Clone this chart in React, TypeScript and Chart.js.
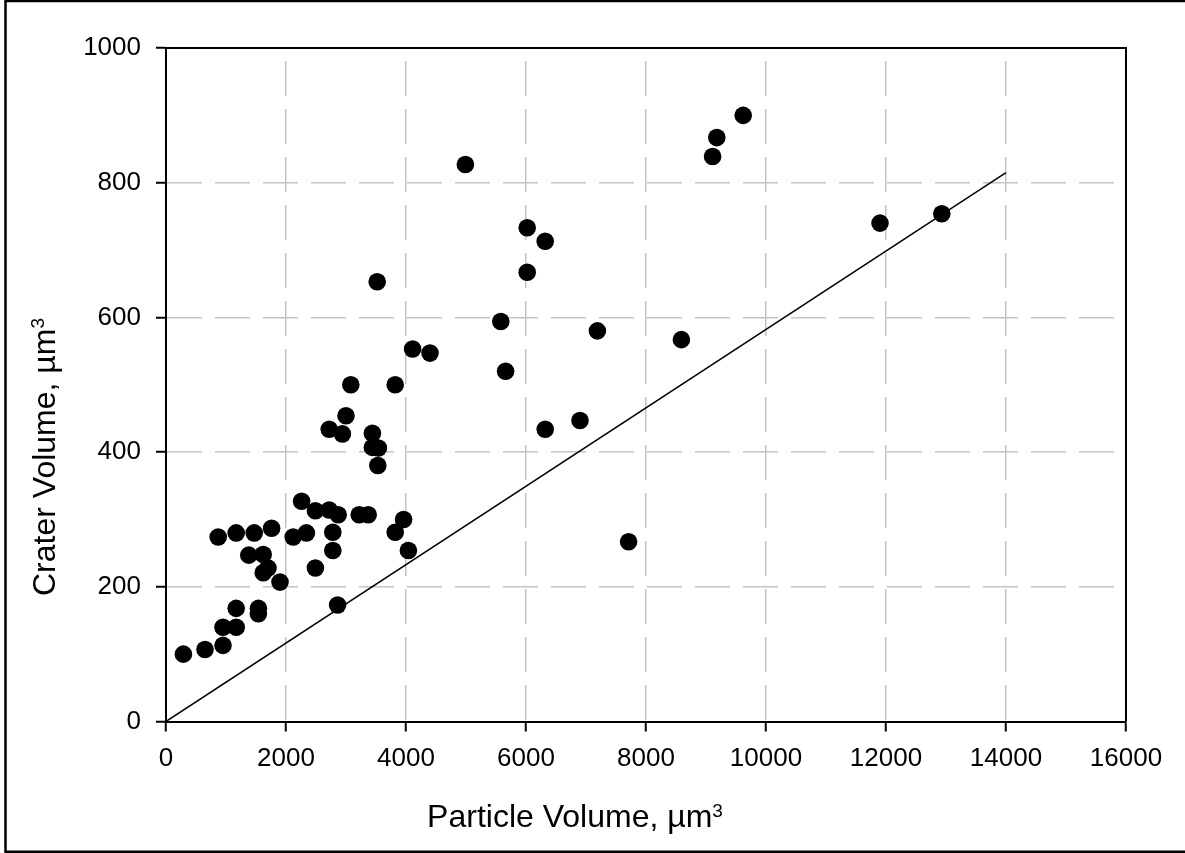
import React, { useEffect, useRef } from "react";
import { Chart, registerables } from "chart.js";

Chart.register(...registerables);

const particleVolume = [
  290, 650, 950, 950, 1170, 1170, 1540, 1540, 1900, 1620,
  1700, 1380, 1620, 870, 1170, 1470, 1760, 2120, 2340, 2260,
  2490, 2720, 2870, 3220, 3370, 3960, 3820, 4040, 2780, 2780,
  2490, 2860, 3080, 3820, 3000, 2720, 2940, 3440, 3440, 3540,
  3530, 4990, 6020, 6320, 6020, 3520, 5580, 7190, 4110, 4400,
  5660, 6320, 6900, 9620, 9180, 9110, 11900, 12930, 8590, 7710,
];
const craterVolume = [
  100, 107, 113, 140, 140, 168, 168, 160, 207, 221,
  228, 247, 248, 274, 280, 280, 287, 274, 280, 327,
  313, 314, 307, 307, 307, 300, 281, 254, 281, 254,
  228, 173, 500, 500, 454, 434, 427, 428, 407, 406,
  380, 827, 733, 713, 667, 653, 594, 580, 553, 547,
  520, 434, 447, 900, 867, 839, 740, 754, 567, 267,
];

// Fitted line end points
const fitX = [0, 14000];
const fitY = [0, 815];

// Axis settings
const xTicks = { min: 0, max: 16000, step: 2000 };
const yTicks = { min: 0, max: 1000, step: 200 };

const X_TITLE = "Particle Volume, µm";
const Y_TITLE = "Crater Volume, µm";
const TITLE_SUP = "3";

const FONT = "'Liberation Sans', Arial, Helvetica, sans-serif";

function drawTitle(ctx: CanvasRenderingContext2D, main: string, sup: string) {
  ctx.font = `32px ${FONT}`;
  const wMain = ctx.measureText(main).width;
  ctx.font = `19px ${FONT}`;
  const wSup = ctx.measureText(sup).width;
  const start = -(wMain + wSup) / 2;
  ctx.textAlign = "left";
  ctx.textBaseline = "alphabetic";
  ctx.font = `32px ${FONT}`;
  ctx.fillText(main, start, 0);
  ctx.font = `19px ${FONT}`;
  ctx.fillText(sup, start + wMain, -10.7);
}

const decorPlugin = {
  id: "decor",
  beforeDatasetsDraw(chart: any) {
    const { ctx, chartArea } = chart;
    ctx.save();
    ctx.strokeStyle = "#000";
    ctx.lineWidth = 2;
    ctx.beginPath();
    ctx.moveTo(chartArea.left, chartArea.top);
    ctx.lineTo(chartArea.right, chartArea.top);
    ctx.lineTo(chartArea.right, chartArea.bottom);
    ctx.stroke();
    ctx.restore();
  },
  afterDraw(chart: any) {
    const { ctx } = chart;
    ctx.save();
    // outer frame
    ctx.strokeStyle = "#000";
    ctx.lineWidth = 2.5;
    ctx.beginPath();
    ctx.moveTo(1195, 1);
    ctx.lineTo(5.5, 1);
    ctx.lineTo(5.5, 851.8);
    ctx.lineTo(1195, 851.8);
    ctx.stroke();
    ctx.fillStyle = "#000";
    // x axis title
    ctx.save();
    ctx.translate(575, 827.3);
    drawTitle(ctx, X_TITLE, TITLE_SUP);
    ctx.restore();
    // y axis title
    ctx.save();
    ctx.translate(54.5, 457);
    ctx.rotate(-Math.PI / 2);
    drawTitle(ctx, Y_TITLE, TITLE_SUP);
    ctx.restore();
    ctx.restore();
  },
};

export default function App() {
  const ref = useRef<HTMLCanvasElement | null>(null);

  useEffect(() => {
    if (!ref.current) return;
    const points = particleVolume.map((x, i) => ({ x, y: craterVolume[i] }));
    const fit = fitX.map((x, i) => ({ x, y: fitY[i] }));
    const chart = new Chart(ref.current, {
      type: "scatter",
      data: {
        datasets: [
          {
            data: points,
            backgroundColor: "#000",
            borderWidth: 0,
            pointRadius: 8.8,
            pointHoverRadius: 8.8,
          },
          {
            data: fit,
            showLine: true,
            borderColor: "#000",
            borderWidth: 1.5,
            pointRadius: 0,
            pointHoverRadius: 0,
            fill: false,
          },
        ],
      },
      options: {
        animation: false,
        responsive: false,
        devicePixelRatio: 1,
        layout: { padding: { left: 0, top: 48, right: 59, bottom: 0 } },
        plugins: {
          legend: { display: false },
          tooltip: { enabled: false },
          title: { display: false },
        },
        scales: {
          x: {
            type: "linear",
            min: xTicks.min,
            max: xTicks.max,
            afterFit: (s: any) => {
              s.height = 131.5;
            },
            ticks: {
              stepSize: xTicks.step,
              color: "#000",
              font: { family: FONT, size: 26 },
              padding: 12,
              maxRotation: 0,
              autoSkip: false,
              callback: (v: any) => String(v),
            },
            grid: {
              color: "#c4c4c4",
              lineWidth: 1.5,
              tickColor: "#000",
              tickWidth: 2,
              tickLength: 10,
            },
            border: { display: true, color: "#000", width: 2, dash: [35, 13], dashOffset: 35 },
          },
          y: {
            type: "linear",
            min: yTicks.min,
            max: yTicks.max,
            afterFit: (s: any) => {
              s.width = 166;
            },
            ticks: {
              stepSize: yTicks.step,
              color: "#000",
              font: { family: FONT, size: 26 },
              padding: 15,
              autoSkip: false,
              callback: (v: any) => String(v),
            },
            grid: {
              color: "#c4c4c4",
              lineWidth: 1.5,
              tickColor: "#000",
              tickWidth: 2,
              tickLength: 10,
            },
            border: { display: true, color: "#000", width: 2, dash: [35, 13], dashOffset: 0 },
          },
        },
      },
      plugins: [decorPlugin],
    });
    return () => chart.destroy();
  }, []);

  return (
    <div style={{ position: "absolute", left: 0, top: 0, width: 1185, height: 853, background: "#fff" }}>
      <canvas ref={ref} width={1185} height={853} style={{ display: "block", width: 1185, height: 853 }} />
    </div>
  );
}
